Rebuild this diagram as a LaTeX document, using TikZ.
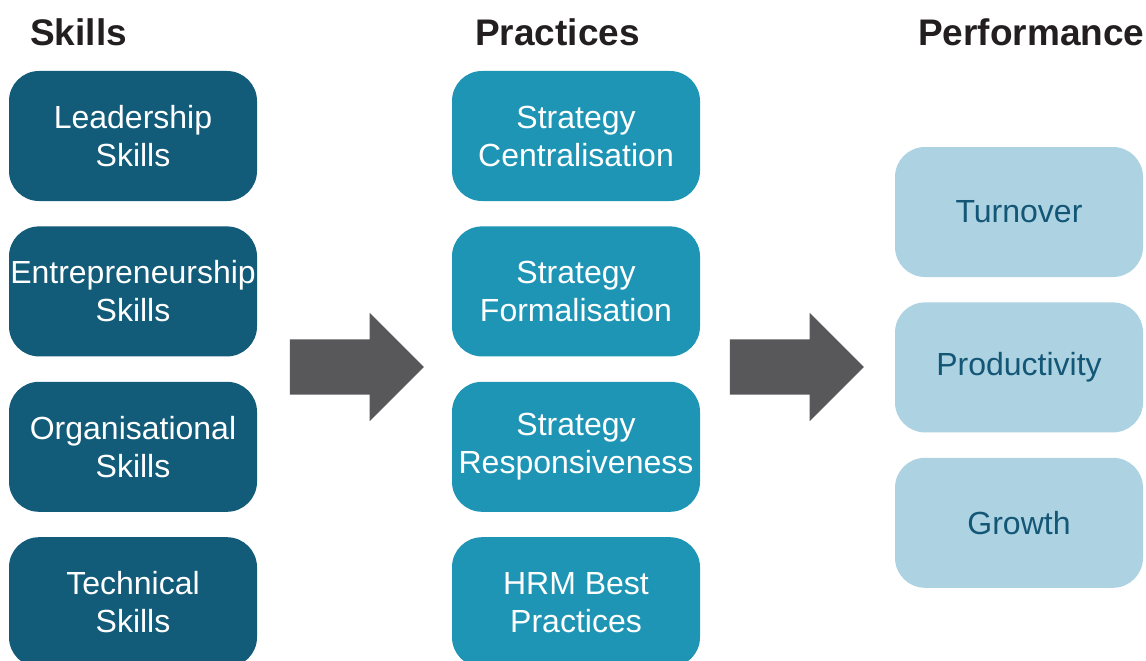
\documentclass[tikz,border=0pt]{standalone}
\usepackage{fontspec}
\setmainfont{Liberation Sans}
\usetikzlibrary{positioning, shapes.arrows}
\definecolor{skillteal}{RGB}{18,91,121}
\definecolor{practteal}{RGB}{30,149,181}
\definecolor{perfteal}{RGB}{173,211,226}
\definecolor{perftext}{RGB}{19,86,118}
\definecolor{flowgray}{RGB}{88,88,90}
\definecolor{headink}{RGB}{35,31,32}
\tikzset{
    box/.style={rounded corners=30pt, minimum width=248pt, minimum height=130pt,
        inner sep=0pt, align=center, font=\fontsize{32}{38}\selectfont},
    skl/.style={box, fill=skillteal, text=white},
    prc/.style={box, fill=practteal, text=white},
    prf/.style={box, fill=perfteal, text=perftext},
    colhead/.style={anchor=base west, text=headink, inner sep=0pt,
        font=\fontsize{37}{44}\selectfont\bfseries},
    flow/.style={single arrow, fill=flowgray, inner xsep=0pt, inner ysep=27.5pt,
        single arrow head extend=26.5pt, single arrow head indent=0pt,
        minimum height=134pt}
}

\begin{document}
\begin{tikzpicture}[x=1pt, y=-1pt]
    \useasboundingbox (0,0) rectangle (1146,661);
    % column titles
    \node[colhead] (hskl) at (30,46) {Skills};
    \node[colhead] (hprc) at (475,46) {Practices};
    \node[colhead] (hprf) at (918,46) {Performance};
    % skills
    \node[skl] (lead) at (133,136) {Leadership\\Skills};
    \node[skl, below=25pt of lead] (entr) {Entrepreneurship\\Skills};
    \node[skl, below=25pt of entr] (orgs) {Organisational\\Skills};
    \node[skl, below=25pt of orgs] (tech) {Technical\\Skills};
    % practices
    \node[prc] (scen) at (576,136) {Strategy\\Centralisation};
    \node[prc, below=25pt of scen] (sfor) {Strategy\\Formalisation};
    \node[prc, below=25pt of sfor] (sres) {Strategy\\Responsiveness};
    \node[prc, below=25pt of sres] (hrm) {HRM Best\\Practices};
    % performance
    \node[prf] (turn) at (1019,212) {Turnover};
    \node[prf, below=25pt of turn] (prod) {Productivity};
    \node[prf, below=25pt of prod] (grow) {Growth};
    % block arrows between the columns
    \node[flow] (f1) at (343,367) {};
    \node[flow] (f2) at (783,367) {};
\end{tikzpicture}
\end{document}
